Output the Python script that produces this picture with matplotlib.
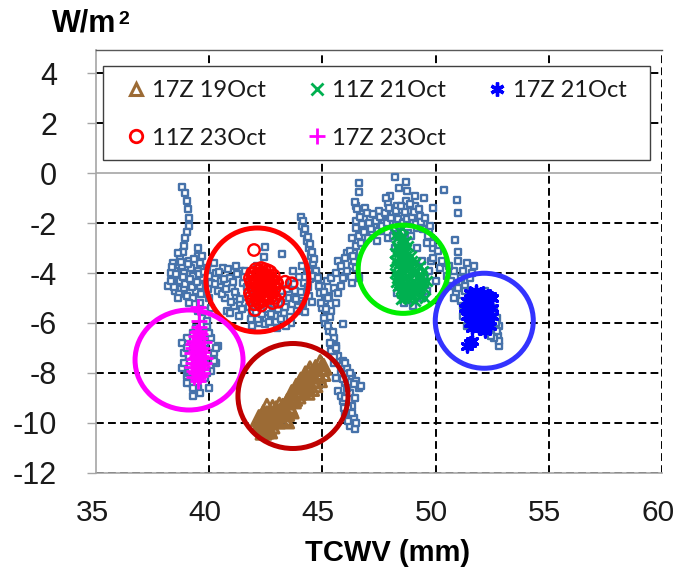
import matplotlib
matplotlib.use("Agg")
import matplotlib.pyplot as plt
import matplotlib.transforms as mtransforms
from matplotlib.lines import Line2D
from matplotlib.patches import Ellipse, Rectangle

# ---------------- data ----------------
xticks = [35, 40, 45, 50, 55, 60]
yticks = [-12, -10, -8, -6, -4, -2, 0, 2, 4]

# all-period points (open blue squares)
all_x = [
    38.8, 38.95, 39.0, 39.05, 39.1, 39.1, 39.0, 38.95, 38.9, 38.85, 39.5,
    38.4, 38.5, 38.4, 38.6, 38.5, 38.7, 38.8, 38.9, 38.7, 38.9, 39.0, 39.1, 39.2, 39.3,
    39.2, 39.4, 39.5, 39.6, 39.5, 39.7, 39.6, 39.8, 39.9, 40.0, 38.3, 38.6, 39.3, 38.2,
    38.35, 38.55, 38.45, 38.65, 38.75, 38.85, 38.95, 39.05, 39.15, 39.25, 39.35, 39.45,
    39.55, 39.65, 39.75, 39.85, 39.95, 40.1, 40.2, 40.0, 38.6, 39.1, 38.3, 39.7,
    39.6, 39.8, 39.7, 39.9, 39.6, 39.5, 39.9, 40.1, 39.4,
    39.0, 39.2, 38.9, 39.1, 38.8, 39.0, 39.2, 39.3, 39.5, 39.8, 40.1, 40.3, 40.2, 40.4,
    40.1, 39.8, 39.6, 39.4, 40.0, 39.1,
    38.8, 39.0, 39.1, 38.9, 39.2, 39.0, 39.3, 39.6, 39.9, 40.2, 40.3, 40.0, 39.7, 39.8, 39.3,
    40.3, 40.5, 40.4, 40.7, 40.6, 40.9, 41.0, 41.2, 41.1, 41.4, 41.5, 41.7, 41.6, 41.9,
    41.8, 42.1, 42.0, 42.3, 42.5, 42.7, 42.9, 43.1, 43.3, 43.5, 43.2, 43.6, 43.8, 44.0,
    43.9, 44.2, 44.4, 44.3, 43.7, 42.46, 42.4, 43.2, 40.8, 41.3, 42.2, 43.6,
    40.25, 40.45, 40.55, 40.65, 40.75, 40.85, 40.95, 41.05, 41.15, 41.25, 41.35, 41.45,
    41.55, 41.65, 41.75, 41.85, 41.95, 42.05, 42.15, 42.35, 42.45, 42.55, 42.65, 42.75,
    42.85, 42.95, 43.05, 43.15, 43.25, 43.35, 43.45, 43.55, 43.65, 43.75, 43.85, 43.95,
    44.05, 44.15, 44.25, 44.35, 44.45, 44.55, 44.1, 44.5, 41.6, 41.2, 40.9, 41.9, 43.0, 43.4,
    44.05, 44.1, 44.2, 44.3, 44.4, 44.5, 44.6, 44.4,
    44.15, 44.25, 44.35, 44.45, 44.55, 44.65, 44.7, 44.6,
    44.8, 45.0, 45.2, 44.9, 45.1, 45.3, 45.0, 45.2, 45.4, 45.1, 45.3, 45.5, 45.6,
    45.4, 45.7, 45.5, 45.9, 46.1, 45.8, 46.3, 46.0, 46.5, 45.7, 46.2, 46.6, 45.9, 46.3,
    46.0, 46.4, 46.2, 46.45, 45.6,
    44.85, 45.05, 45.25, 44.95, 45.15, 45.35, 45.05, 45.25, 45.45, 45.35, 45.6, 45.5,
    45.8, 46.0, 46.2, 45.9, 46.4, 46.1, 46.7, 45.8, 46.0, 46.45, 46.15, 45.95, 46.3,
    46.15, 46.5, 45.5, 45.7, 45.6, 45.8, 46.0, 46.3, 45.7, 46.1, 46.4, 45.4,
    45.6, 45.8, 46.0, 46.2, 46.4, 46.1, 45.9, 46.3, 46.5, 45.9,
    46.3, 46.35, 46.5, 46.6,
    46.6, 46.6, 48.2, 48.7, 48.75, 50.35, 50.95, 51.0, 50.85, 51.0,
    46.5, 46.7, 46.5, 46.8, 46.6, 46.9, 47.1, 47.3, 47.2, 47.5, 47.7, 47.6, 47.9, 48.1,
    48.0, 48.3, 48.5, 48.4, 48.7, 48.9, 49.1, 49.0, 49.3, 49.5, 49.7, 49.2, 48.8, 47.9,
    47.4, 49.8, 49.9, 49.5, 48.0,
    46.45, 46.55, 46.65, 46.75, 46.85, 46.95, 47.05, 47.15, 47.25, 47.35, 47.45, 47.55,
    47.65, 47.75, 47.85, 47.95, 48.05, 48.15, 48.25, 48.35, 48.45, 48.55, 48.65, 48.75,
    48.85, 48.95, 49.05, 49.15, 49.25, 49.35, 49.45, 49.55, 49.65, 49.75, 49.85, 47.0,
    46.7, 46.5, 47.8, 48.4, 49.1, 49.9,
    48.2, 48.4, 48.6, 48.9, 49.2, 49.4, 49.5, 49.3, 49.6, 48.5, 49.7, 49.0,
    48.3, 48.6, 49.0, 49.4, 49.6, 49.8, 48.1, 48.9,
    49.9, 50.2, 50.5, 50.8, 51.1, 51.4, 51.6, 50.4, 50.0, 51.3,
    50.1, 50.3, 50.6, 50.9, 51.2, 51.5, 51.7, 50.7, 51.0,
    50.7, 50.9, 51.1, 51.3, 51.5, 51.4, 51.7, 52.0, 52.3, 52.6, 52.7, 52.8, 52.75, 52.8,
    52.5, 51.6, 51.9, 52.2,
    50.8, 51.0, 51.2, 52.2, 52.55, 52.65, 52.7, 52.8, 52.6, 52.45, 51.2, 51.4,
]
all_y = [
    -0.55, -0.8, -1.1, -1.45, -1.8, -2.1, -2.35, -2.6, -2.9, -3.15, -3.0,
    -3.6, -3.9, -4.2, -4.4, -4.7, -3.4, -3.7, -4.0, -4.3, -4.6, -4.9, -3.5, -3.8, -4.1,
    -4.4, -4.7, -3.3, -3.6, -3.9, -4.2, -4.5, -4.8, -3.8, -4.1, -4.0, -3.2, -5.0, -4.5,
    -3.75, -4.05, -4.55, -4.85, -3.55, -4.15, -4.45, -3.65, -4.25, -4.55, -3.45, -4.35,
    -4.05, -4.85, -3.95, -4.45, -4.65, -4.4, -3.6, -5.0, -5.0, -5.2, -4.3, -3.3,
    -5.2, -5.5, -5.8, -6.1, -6.4, -5.5, -5.9, -5.4, -6.2,
    -6.6, -6.9, -7.2, -7.5, -7.8, -8.1, -8.4, -8.9, -8.6, -8.2, -7.9, -7.6, -7.2, -6.9,
    -6.6, -6.8, -7.3, -7.7, -8.6, -8.0,
    -6.8, -7.0, -7.3, -7.6, -7.9, -8.4, -8.6, -8.8, -8.0, -7.5, -7.0, -6.4, -6.5, -7.6, -6.4,
    -4.0, -4.3, -4.7, -5.0, -3.8, -4.2, -4.6, -4.9, -5.3, -3.9, -4.4, -4.8, -5.2, -5.6,
    -4.1, -3.7, -5.0, -5.4, -5.8, -5.3, -5.7, -5.2, -5.6, -5.0, -4.7, -4.3, -4.7, -5.1,
    -5.5, -4.4, -4.9, -3.9, -3.9, -2.95, -3.35, -3.25, -5.5, -5.7, -6.0, -6.0,
    -4.45, -3.95, -4.85, -4.25, -4.65, -3.85, -5.15, -4.35, -4.75, -4.05, -5.05, -5.45,
    -4.15, -4.55, -5.35, -5.85, -4.65, -5.55, -5.85, -5.65, -6.05, -5.45, -5.95, -5.65,
    -5.25, -5.95, -5.45, -5.85, -4.95, -5.35, -4.65, -5.75, -5.25, -4.45, -5.05, -4.15,
    -4.75, -5.25, -5.55, -4.55, -4.25, -5.15, -3.7, -3.8, -3.9, -3.7, -5.6, -6.1, -6.2, -6.1,
    -1.75, -2.1, -2.4, -2.7, -3.0, -3.3, -3.6, -3.9,
    -1.9, -2.25, -2.55, -2.85, -3.15, -3.45, -3.9, -4.1,
    -4.2, -4.5, -4.3, -4.8, -5.1, -4.9, -5.4, -5.7, -5.5, -6.0, -6.3, -6.6, -6.9,
    -7.1, -7.3, -7.6, -7.5, -7.8, -8.0, -8.1, -8.4, -8.3, -8.7, -8.8, -8.6, -9.1, -9.3,
    -9.6, -9.8, -10.1, -10.25, -8.2,
    -4.5, -4.75, -5.0, -5.2, -5.45, -5.75, -5.8, -6.1, -6.35, -6.8, -7.0, -7.35,
    -7.7, -7.6, -8.0, -8.25, -8.45, -8.6, -8.5, -8.9, -9.0, -9.0, -9.4, -9.4, -9.6,
    -9.9, -10.0, -4.6, -4.8, -5.2, -4.5, -4.1, -3.7, -3.5, -3.2, -3.2, -4.2,
    -4.0, -3.7, -3.4, -3.1, -3.5, -3.9, -4.2, -4.4, -2.9, -6.05,
    -2.6, -3.3, -3.8, -4.2,
    -0.4, -0.75, -0.17, -0.35, -0.7, -0.68, -1.08, -1.6, -2.68, -3.15,
    -1.3, -1.6, -1.9, -2.2, -2.5, -1.4, -1.8, -2.1, -2.4, -1.5, -1.9, -2.3, -1.2, -1.6,
    -2.0, -1.3, -1.7, -2.1, -1.1, -1.5, -1.3, -1.9, -1.7, -2.0, -2.3, -2.2, -2.4, -2.6,
    -2.7, -2.6, -3.0, -1.0, -0.9,
    -1.15, -1.45, -1.75, -2.05, -2.35, -1.6, -2.0, -2.25, -1.65, -1.9, -2.3, -1.75,
    -2.1, -1.6, -2.0, -1.4, -1.8, -2.2, -1.5, -1.85, -1.3, -2.0, -1.55, -1.85,
    -1.25, -1.75, -1.55, -2.05, -1.45, -1.95, -2.25, -1.8, -2.5, -2.1, -2.8, -2.6,
    -2.8, -2.2, -1.0, -0.6, -0.9, -1.4,
    -3.0, -4.5, -5.0, -4.8, -3.0, -3.5, -4.2, -4.7, -2.8, -2.7, -3.9, -5.1,
    -4.8, -5.2, -5.3, -5.0, -4.7, -3.5, -2.5, -2.5,
    -3.4, -3.8, -4.1, -3.9, -4.2, -3.6, -4.0, -3.6, -4.3, -4.5,
    -3.1, -3.5, -3.7, -4.4, -3.9, -4.2, -3.7, -4.3, -3.5,
    -4.5, -4.8, -5.1, -4.7, -5.0, -5.4, -5.2, -4.9, -5.1, -5.4, -5.8, -6.1, -6.5, -6.9,
    -6.2, -5.8, -6.0, -6.3,
    -5.0, -4.6, -5.3, -4.7, -5.6, -6.0, -6.3, -6.7, -6.6, -6.5, -5.7, -6.1,
]

# 17Z 19Oct (brown triangles)
s1_x = [42.3, 42.5, 42.4, 42.7, 42.6, 42.9, 43.0, 43.2, 42.8, 43.3, 42.2, 42.5,
        43.5, 43.6, 43.8, 43.7, 43.9, 43.4, 43.6,
        44.0, 44.2, 44.3, 44.4, 44.6, 44.7, 44.8, 44.9, 45.0, 44.5, 44.1,
        42.25, 42.35, 42.45, 42.55, 42.65, 42.75, 42.85, 42.95, 43.05, 43.15, 43.25,
        43.35, 43.45, 43.55, 43.65, 43.75, 43.85, 43.95, 44.05, 44.15, 44.25, 44.35,
        44.45, 44.55, 44.65, 44.75, 44.85, 44.95, 45.05, 42.4, 42.65, 43.4, 44.3,
        42.55, 43.1]
s1_y = [-10.1, -9.9, -9.6, -9.8, -10.2, -9.6, -9.9, -9.5, -9.4, -9.8, -9.8, -10.3,
        -9.3, -9.0, -8.7, -9.1, -8.9, -9.6, -9.5,
        -8.4, -8.2, -8.5, -8.0, -8.3, -7.8, -8.1, -7.6, -8.0, -8.6, -8.7,
        -10.0, -9.75, -10.15, -9.65, -9.95, -10.1, -9.75, -9.45, -9.65, -9.85, -9.35,
        -9.55, -9.15, -9.4, -8.8, -9.0, -8.55, -8.75, -8.3, -8.5, -8.05, -8.3,
        -7.85, -8.1, -8.45, -7.95, -8.25, -7.8, -7.75, -10.35, -10.3, -9.9, -8.75,
        -9.35, -9.3]

# 11Z 21Oct (green x)
s2_x = [48.4, 48.5, 48.3, 48.6, 48.2, 48.4, 48.7, 48.3, 48.5, 48.8, 48.2, 48.6, 48.9,
        48.4, 48.7, 49.0, 48.5, 48.8, 49.1, 49.3, 49.2, 49.4, 49.5, 49.3, 49.6, 48.6,
        48.5, 48.4, 48.6, 48.6, 48.3, 48.8, 49.0, 49.1, 48.9, 48.7, 48.2, 49.2, 48.5, 48.9,
        48.25, 48.45, 48.35, 48.55, 48.25, 48.45, 48.65, 48.35, 48.55, 48.75, 48.25,
        48.45, 48.65, 48.85, 48.65, 48.95, 49.15, 49.05, 49.25, 49.45, 49.35, 49.15,
        49.3, 49.45, 48.75, 48.85, 48.3, 48.55, 48.4, 48.65, 48.35, 48.6, 49.55, 48.8,
        48.95, 49.1, 48.5, 48.45]
s2_y = [-2.3, -2.6, -2.9, -3.0, -3.2, -3.4, -3.3, -3.7, -3.9, -3.6, -4.0, -4.2, -3.9,
        -4.4, -4.6, -4.3, -4.8, -5.0, -4.7, -4.4, -3.9, -4.1, -4.6, -4.9, -4.3, -2.8,
        -3.2, -3.6, -3.6, -4.0, -4.2, -4.3, -4.0, -3.6, -3.3, -2.7, -3.5, -4.2, -4.5, -4.8,
        -2.45, -2.75, -3.05, -3.35, -3.55, -3.8, -3.85, -4.05, -4.3, -4.1, -4.35,
        -4.65, -4.45, -4.55, -4.85, -4.95, -4.85, -4.55, -4.65, -4.35, -4.2, -4.4,
        -3.7, -3.9, -3.45, -3.75, -2.6, -2.5, -3.15, -3.2, -4.5, -5.0, -5.0, -2.9,
        -3.5, -5.1, -2.2, -5.05]

# 17Z 21Oct (blue asterisks)
s3_x = [51.5, 51.8, 52.1, 52.4, 51.4, 51.7, 52.0, 52.3, 52.5, 51.3, 51.6, 51.9, 52.2,
        52.5, 51.4, 51.7, 52.0, 52.3, 52.5, 51.5, 51.8, 52.1, 52.4, 51.6, 51.9, 52.2,
        51.5, 51.6, 51.4]
s3_y = [-4.8, -4.7, -4.8, -4.9, -5.1, -5.0, -5.1, -5.2, -5.0, -5.4, -5.3, -5.4, -5.5,
        -5.4, -5.7, -5.6, -5.7, -5.8, -5.7, -6.0, -5.9, -6.0, -6.1, -6.2, -6.2, -6.3,
        -6.8, -6.7, -6.9]

# 11Z 23Oct (red open circles)
s4_x = [41.8, 41.9, 41.8, 42.0, 42.1, 42.0, 42.1, 42.2, 42.3, 42.2, 42.3, 42.4, 42.4,
        42.5, 42.5, 42.6, 42.7, 42.6, 42.8, 42.9, 42.3, 42.2, 42.7, 43.0, 43.1, 41.98,
        43.64, 43.35, 43.05, 42.02, 42.9, 41.9,
        41.85, 41.95, 41.85, 41.95, 42.05, 42.05, 42.05, 42.15, 42.15, 42.15, 42.25,
        42.25, 42.25, 42.35, 42.35, 42.35, 42.45, 42.45, 42.45, 42.55, 42.55, 42.55,
        42.65, 42.65, 42.75, 42.75, 42.85, 42.85, 42.95, 42.45, 42.6, 41.9, 42.0, 42.8,
        42.3, 42.7]
s4_y = [-4.2, -4.5, -4.8, -4.0, -4.3, -4.7, -5.0, -3.9, -4.2, -4.5, -4.8, -5.1, -4.0,
        -4.4, -4.7, -4.2, -4.5, -4.9, -4.3, -4.6, -3.8, -5.2, -5.0, -4.4, -4.8, -3.08,
        -4.41, -4.35, -5.15, -5.48, -5.0, -4.0,
        -4.35, -4.65, -4.95, -4.15, -3.85, -4.45, -4.85, -4.15, -4.6, -5.15, -4.35,
        -4.75, -4.0, -4.55, -4.95, -4.1, -4.3, -4.65, -4.9, -4.1, -4.55, -5.0,
        -4.35, -4.7, -4.2, -4.8, -4.5, -4.1, -4.35, -3.85, -3.9, -5.1, -5.25, -5.2,
        -5.3, -3.95]

# 17Z 23Oct (magenta plus)
s5_x = [39.5, 39.55, 39.4, 39.6, 39.5, 39.3, 39.7, 39.5, 39.4, 39.6, 39.3, 39.7, 39.5,
        39.4, 39.6, 39.5, 39.55, 39.45, 39.65, 39.35,
        39.45, 39.6, 39.35, 39.55, 39.75, 39.3, 39.5, 39.7, 39.25, 39.45, 39.8, 39.35,
        39.55, 39.75, 39.25, 39.45, 39.65, 39.4, 39.55, 39.35, 39.7, 39.5, 39.6, 39.4, 39.55]
s5_y = [-5.35, -6.15, -6.5, -6.6, -6.8, -7.0, -7.0, -7.2, -7.4, -7.4, -7.6, -7.7, -7.8,
        -8.0, -8.1, -8.3, -6.3, -6.9, -7.3, -7.9,
        -6.35, -6.45, -6.7, -6.6, -6.75, -6.85, -6.95, -7.15, -7.2, -7.3, -7.4, -7.45,
        -7.55, -7.6, -7.75, -7.65, -7.85, -7.95, -8.05, -8.15, -8.0, -8.2, -7.05, -7.1, -5.9]

# highlight circles: (center x, center y, width, height, colour)
circ_cx = [42.13, 39.11, 43.70, 48.57, 52.15]
circ_cy = [-4.28, -7.48, -8.92, -3.85, -5.91]
circ_w = [4.55, 4.77, 4.86, 3.98, 4.33]
circ_h = [4.16, 4.00, 4.20, 3.53, 3.80]
circ_c = ['#ff0000', '#ff00ff', '#c00000', '#00ee00', '#3333ff']

labels = ['17Z 19Oct', '11Z 21Oct', '17Z 21Oct', '11Z 23Oct', '17Z 23Oct']

# ---------------- plot ----------------
BROWN = '#9c6b35'
GREEN = '#00b050'
BLUE = '#0000ff'
RED = '#ff0000'
MAG = '#ff00ff'
SQ = '#4672aa'
GRAY = '#a6a6a6'

fig = plt.figure(figsize=(6.76, 5.72), dpi=100)
ax = fig.add_axes([96/676, 99/572, 566/676, 423/572])
ax.set_xlim(35, 60)
ax.set_ylim(-12, 4.92)

# grid
for gx in xticks[1:]:
    ax.axvline(gx, color='black', lw=1.4, ls=(0, (4, 2.2)), zorder=1)
for gy in yticks:
    if gy != 0:
        ax.axhline(gy, color='black', lw=1.4, ls=(0, (4, 2.2)), zorder=1)
ax.axhline(0, color=GRAY, lw=1.2, zorder=1)

ax.scatter(all_x, all_y, s=22, marker='s', facecolors='white', edgecolors=SQ,
           linewidths=1.7, zorder=3)
ax.scatter(s1_x, s1_y, s=115, marker='^', facecolors='none', edgecolors=BROWN,
           linewidths=2.2, zorder=4)
ax.scatter(s2_x, s2_y, s=55, marker='x', c=GREEN, linewidths=2, zorder=4)
ax.scatter(s3_x, s3_y, s=65, marker=(6, 2, 0), c=BLUE, linewidths=2.4, zorder=4)
ax.scatter(s4_x, s4_y, s=68, marker='o', facecolors='none', edgecolors=RED,
           linewidths=1.7, zorder=4)
ax.scatter(s5_x, s5_y, s=120, marker='+', c=MAG, linewidths=2, zorder=4)

for cx, cy, w, h, c in zip(circ_cx, circ_cy, circ_w, circ_h, circ_c):
    ax.add_patch(Ellipse((cx, cy), w, h, fill=False, edgecolor=c, lw=3.6, zorder=5))

# axes styling
for side in ['left', 'bottom']:
    ax.spines[side].set_color(GRAY)
    ax.spines[side].set_linewidth(1.2)
ax.spines['right'].set_visible(False)
ax.spines['top'].set_color('#595959')
ax.spines['top'].set_linewidth(1.0)

ax.set_xticks(xticks)
ax.set_yticks(yticks)
ax.set_xticklabels([str(v) for v in xticks])
ax.set_yticklabels([str(v) for v in yticks])
ax.tick_params(axis='x', length=0, pad=18.5, labelsize=21.5, labelcolor='#1a1a1a')
ax.tick_params(axis='y', length=6.5, width=1.0, color=GRAY, pad=21.5,
               labelsize=22, labelcolor='#1a1a1a')
shift = mtransforms.ScaledTranslation(-4/100, 0, fig.dpi_scale_trans)
for t in ax.get_xticklabels():
    t.set_fontfamily('Liberation Sans')
    t.set_transform(t.get_transform() + shift)
for t in ax.get_yticklabels():
    t.set_fontfamily('Liberation Sans')

# legend frame + legend
ax.add_patch(Rectangle((7/566, (473-160)/423), 547/566, 94/423, transform=ax.transAxes,
                       facecolor='white', edgecolor='#404040', lw=1.0, zorder=6))
handles = [
    Line2D([], [], ls='none', marker='^', mfc='none', mec=BROWN, mew=2.2, ms=9),
    Line2D([], [], ls='none', marker='x', color=GREEN, mew=2, ms=9),
    Line2D([], [], ls='none', marker=(6, 2, 0), color=BLUE, mew=2.4, ms=10),
    Line2D([], [], ls='none', marker='o', mfc='none', mec=RED, mew=2, ms=9),
    Line2D([], [], ls='none', marker='+', color=MAG, mew=2, ms=11),
]
order = [0, 3, 1, 4, 2]
leg = ax.legend([handles[i] for i in order], [labels[i] for i in order], ncol=3,
                loc='upper left', bbox_to_anchor=((127-96)/566, (473-80)/423),
                frameon=False, borderpad=0, borderaxespad=0, handlelength=0.8,
                handletextpad=0.25, columnspacing=1.77, labelspacing=1.13,
                prop={'family': 'Lato', 'size': 17})
leg.set_zorder(7)
for t in leg.get_texts():
    t.set_color('#1a1a1a')

# titles
fig.text(52/676, 1-24/572, 'W/m', fontsize=22, fontweight='bold',
         family='Liberation Sans', ha='left', va='center')
fig.text(118/676, 1-11/572, '2', fontsize=14, fontweight='bold',
         family='Liberation Sans', ha='left', va='top')
fig.text(388/676, 1-553/572, 'TCWV (mm)', fontsize=21, fontweight='bold',
         family='Liberation Sans', ha='center', va='center')

fig.savefig('out.png', dpi=100)
